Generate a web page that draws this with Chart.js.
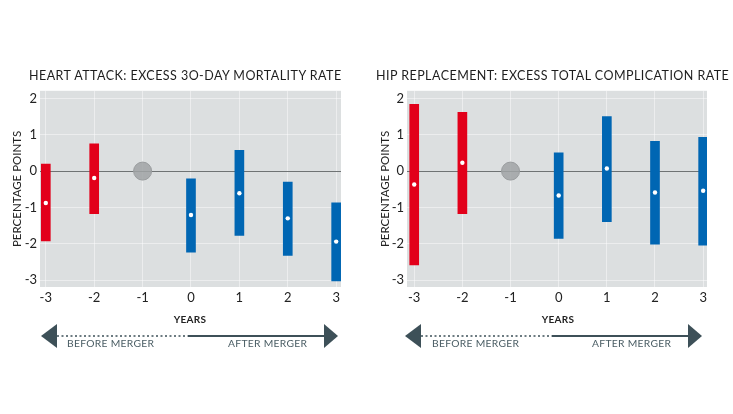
<!DOCTYPE html>
<html>
<head>
<meta charset="utf-8">
<script src="https://cdn.jsdelivr.net/npm/chart.js@4.4.1/dist/chart.umd.min.js"></script>
<style>
  html, body { margin: 0; padding: 0; background: #fff; }
  #page { position: relative; width: 733px; height: 414px; overflow: hidden; font-family: Lato, "Open Sans", sans-serif; }
  canvas { position: absolute; }
  svg { position: absolute; left: 0; top: 0; }
</style>
</head>
<body>
<div id="page">
  <canvas id="heart" width="366" height="250" style="left:0px;top:80px"></canvas>
  <canvas id="hip" width="367" height="250" style="left:366px;top:80px"></canvas>
  <svg width="733" height="414">
    <g font-family="Lato, 'Open Sans', sans-serif" fill="#1e1e1e" font-size="12.5" letter-spacing="0.45">
      <text x="29" y="80">HEART ATTACK: EXCESS 3O-DAY MORTALITY RATE</text>
      <text x="376" y="80">HIP REPLACEMENT: EXCESS TOTAL COMPLICATION RATE</text>
    </g>
    <g font-family="Lato, 'Open Sans', sans-serif" fill="#222" font-size="10" font-weight="bold" text-anchor="middle" letter-spacing="0.3">
      <text x="190" y="323">YEARS</text>
      <text x="558" y="323">YEARS</text>
    </g>
    <!-- merger arrows -->
    <g fill="#3d5058" stroke="none">
      <polygon points="41,336 57,324 57,348"/>
      <polygon points="338,336 324,324 324,348"/>
      <polygon points="405,336 421,324 421,348"/>
      <polygon points="702,336 688,324 688,348"/>
    </g>
    <g stroke="#3d5058">
      <line x1="57" y1="336" x2="188" y2="336" stroke-width="1.5" stroke-dasharray="2 2.5"/>
      <line x1="188" y1="336" x2="324" y2="336" stroke-width="2"/>
      <line x1="421" y1="336" x2="552" y2="336" stroke-width="1.5" stroke-dasharray="2 2.5"/>
      <line x1="552" y1="336" x2="688" y2="336" stroke-width="2"/>
    </g>
    <g font-family="Lato, 'Open Sans', sans-serif" fill="#4a5d64" font-size="10.3" letter-spacing="0.3">
      <text x="67" y="347">BEFORE MERGER</text>
      <text x="228" y="347">AFTER MERGER</text>
      <text x="432" y="347">BEFORE MERGER</text>
      <text x="592" y="347">AFTER MERGER</text>
    </g>
  </svg>
</div>
<script>
// Years relative to the merger (-1 is the reference year)
var years = [-3, -2, -1, 0, 1, 2, 3];
var refYear = -1;
var refValue = 0;

// Heart attack: excess 30-day mortality rate (percentage points)
var heartLow  = [-1.92, -1.17, null, -2.23, -1.77, -2.32, -3.02];
var heartHigh = [ 0.19,  0.75, null, -0.21,  0.57, -0.30, -0.87];
var heartEst  = [-0.88, -0.19, null, -1.21, -0.61, -1.30, -1.94];

// Hip replacement: excess total complication rate (percentage points)
var hipLow  = [-2.58, -1.17, null, -1.85, -1.39, -2.01, -2.04];
var hipHigh = [ 1.84,  1.62, null,  0.50,  1.50,  0.82,  0.93];
var hipEst  = [-0.37,  0.23, null, -0.67,  0.07, -0.59, -0.54];

// Axis ticks
var xTicks = [-3, -2, -1, 0, 1, 2, 3];
var yTicks = [-3, -2, -1, 0, 1, 2];

var beforeColor = '#e2001a';
var afterColor = '#0066b3';

// Fill the plot area grey before the grid is drawn
var plotBackground = {
    id: 'plotBackground',
    beforeDraw: function(chart) {
        var a = chart.chartArea;
        var ctx = chart.ctx;
        ctx.save();
        ctx.fillStyle = '#dcdfe0';
        ctx.fillRect(a.left, a.top, a.right - a.left, a.bottom - a.top);
        ctx.restore();
    }
};

function makeChart(id, low, high, est, axisWidth, titlePad, rightPad, xMin, xMax) {
    var ctx = document.getElementById(id).getContext('2d');

    var bars = [];
    var barColors = [];
    var dots = [];
    for (var i = 0; i < years.length; i++) {
        if (low[i] === null) continue;
        bars.push({ x: years[i], y: [low[i], high[i]] });
        barColors.push(years[i] < refYear ? beforeColor : afterColor);
        dots.push({ x: years[i], y: est[i] });
    }

    return new Chart(ctx, {
        type: 'bar',
        data: {
            datasets: [
                {
                    type: 'scatter',
                    data: dots,
                    pointRadius: 2.2,
                    pointBackgroundColor: '#ffffff',
                    pointBorderWidth: 0,
                    order: 0
                },
                {
                    type: 'scatter',
                    data: [{ x: refYear, y: refValue }],
                    pointRadius: 9,
                    pointBackgroundColor: 'rgba(160,163,165,0.85)',
                    pointBorderColor: '#9a9d9f',
                    pointBorderWidth: 1,
                    order: 1
                },
                {
                    data: bars,
                    backgroundColor: barColors,
                    barThickness: 9,
                    order: 2
                }
            ]
        },
        options: {
            responsive: false,
            animation: false,
            devicePixelRatio: 1,
            layout: { padding: { top: 7, right: rightPad, bottom: 5, left: 0 } },
            plugins: { legend: { display: false }, tooltip: { enabled: false } },
            scales: {
                x: {
                    type: 'linear',
                    offset: false,
                    min: xMin,
                    max: xMax,
                    afterBuildTicks: function(s) { s.ticks = xTicks.map(function(v) { return { value: v }; }); },
                    afterFit: function(s) { s.height = 38; },
                    border: { display: false },
                    grid: { offset: false, color: 'rgba(255,255,255,0.45)', drawTicks: false },
                    ticks: { padding: 3, color: '#222', font: { family: 'Lato', size: 13 } },
                    title: { display: false }
                },
                y: {
                    min: -3.19,
                    max: 2.21,
                    afterBuildTicks: function(s) { s.ticks = yTicks.map(function(v) { return { value: v }; }); },
                    afterFit: function(s) { s.width = axisWidth; },
                    border: { display: false },
                    grid: {
                        drawTicks: false,
                        color: function(c) { return c.tick && c.tick.value === 0 ? '#6f7374' : 'rgba(255,255,255,0.45)'; }
                    },
                    ticks: { padding: 3, color: '#222', font: { family: 'Lato', size: 13 } },
                    title: {
                        display: true,
                        text: 'PERCENTAGE POINTS',
                        color: '#222',
                        font: { family: 'Lato', size: 11.5 },
                        padding: { top: titlePad - 1, bottom: 0 }
                    }
                }
            }
        },
        plugins: [plotBackground]
    });
}

makeChart('heart', heartLow, heartHigh, heartEst, 40, 11, 25, -3.12, 3.1);
makeChart('hip', hipLow, hipHigh, hipEst, 41, 13, 26, -3.15, 3.08);
</script>
</body>
</html>
